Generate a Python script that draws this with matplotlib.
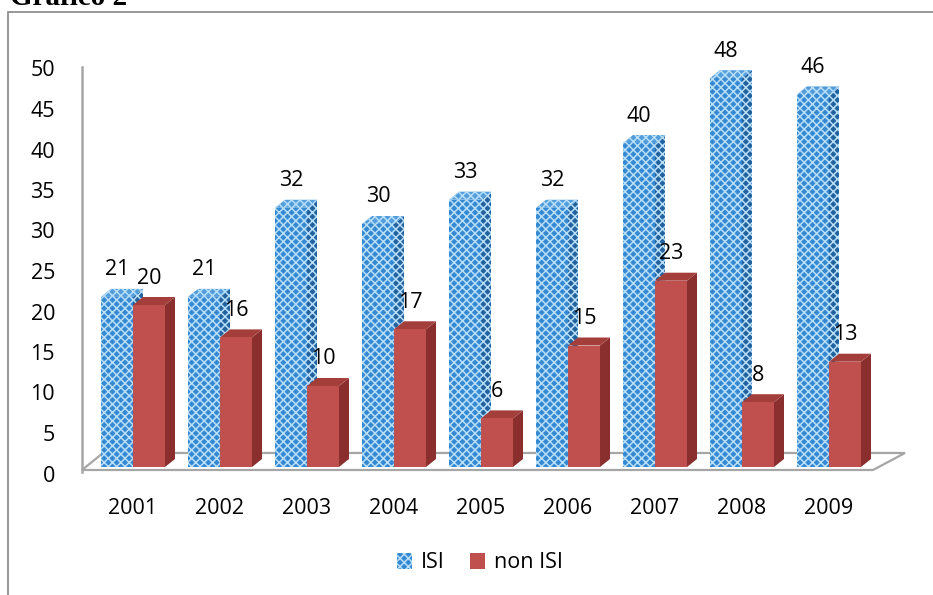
import numpy as np
import matplotlib
matplotlib.use('Agg')
import matplotlib.pyplot as plt
from matplotlib.patches import Polygon, Rectangle, Patch
from matplotlib.transforms import ScaledTranslation

years = ['2001', '2002', '2003', '2004', '2005', '2006', '2007', '2008', '2009']
isi = [21, 21, 32, 30, 33, 32, 40, 48, 46]
non_isi = [20, 16, 10, 17, 6, 15, 23, 8, 13]

plt.rcParams['font.family'] = ['Open Sans', 'DejaVu Sans']
plt.rcParams['hatch.linewidth'] = 1.1
FS = 15.5

W, H, DPI = 933, 595, 100
fig = plt.figure(figsize=(W / DPI, H / DPI), dpi=DPI)

# axes placed so that bar base / top match the reference pixels
px_left, px_right = 82, 905
px_zero, px_fifty = 467, 62
grp0, step = 133, 87
ax = fig.add_axes([px_left / W, (H - px_zero) / H,
                   (px_right - px_left) / W, (px_zero - px_fifty) / H])
x_lo = (px_left - grp0) / step
x_hi = (px_right - grp0) / step
ax.set_xlim(x_lo, x_hi)
ax.set_ylim(0, 50)
ax.axis('off')

bw = 32 / step          # bar width
ddx = 10 / step         # depth offset x
ddy = 8 / 8.1           # depth offset y (value units)

# floor
floor_front = -0.37
floor_back = 1.73
floor = Polygon([(x_lo, floor_front), ((873 - grp0) / step, floor_front),
                 (x_hi, floor_back), ((103 - grp0) / step, floor_back)],
                closed=True, facecolor='white', edgecolor='#a6a6a6',
                linewidth=1.6, clip_on=False, zorder=1)
ax.add_patch(floor)
ax.plot([x_lo, x_lo], [floor_front - 0.2, (px_zero - 67) / 8.1],
        color='#a6a6a6', linewidth=1.8, clip_on=False, zorder=1)

blue = dict(front='#3589d2', side='#21629f', top='#529ddb', hatch='#b8def8')
red = dict(front='#c0504d', side='#8a2f2d', top='#a33e3b', hatch=None)


def bar3d(x0, v, c, z):
    hk = dict(hatch='xxxx', edgecolor=c['hatch'], linewidth=0) if c['hatch'] else dict(linewidth=0)
    side = Polygon([(x0 + bw, 0), (x0 + bw + ddx, ddy), (x0 + bw + ddx, v + ddy), (x0 + bw, v)],
                   facecolor=c['side'], clip_on=False, zorder=z, **hk)
    top = Polygon([(x0, v), (x0 + bw, v), (x0 + bw + ddx, v + ddy), (x0 + ddx, v + ddy)],
                  facecolor=c['top'], clip_on=False, zorder=z, **hk)
    front = Rectangle((x0, 0), bw, v, facecolor=c['front'], clip_on=False, zorder=z, **hk)
    for p in (side, top, front):
        ax.add_patch(p)


lab_off = 19 * 72 / DPI
for i, (a, b) in enumerate(zip(isi, non_isi)):
    bar3d(i - bw, a, blue, 2 + 2 * i)
    bar3d(i, b, red, 3 + 2 * i)
    ax.annotate(str(a), (i - bw / 2, a + ddy), xytext=(0, lab_off), textcoords='offset points',
                ha='center', va='center', fontsize=FS, zorder=30)
    ax.annotate(str(b), (i + bw / 2, b + ddy), xytext=(0, lab_off), textcoords='offset points',
                ha='center', va='center', fontsize=FS, zorder=30)

# category labels
xoff = ax.transData + ScaledTranslation(0, -41 / DPI, fig.dpi_scale_trans)
for i, y in enumerate(years):
    ax.text(i, 0, y, transform=xoff, ha='center', va='center', fontsize=FS)

# value labels (on the back wall, slightly lower)
yoff = ax.get_yaxis_transform() + ScaledTranslation(-27 / DPI, -9 / DPI, fig.dpi_scale_trans)
for t in range(0, 51, 5):
    ax.text(0, t, str(t), transform=yoff, ha='right', va='center', fontsize=FS)

# chart frame and title
fig.patches.append(Rectangle((8 / W, -0.1), 2, 1 - 12 / H + 0.1, transform=fig.transFigure,
                             facecolor='none', edgecolor='#868686', linewidth=1.2))
fig.text(10 / W, 1 - 5 / H, 'Grafico 2', ha='left', va='baseline', fontsize=21,
         fontweight='bold', family='Liberation Serif')

handles = [Patch(facecolor=blue['front'], edgecolor=blue['hatch'], hatch='xxxx', linewidth=0),
           Patch(facecolor=red['front'], linewidth=0)]
fig.legend(handles, ['ISI', 'non ISI'], loc='center', bbox_to_anchor=(480 / W, 1 - 563 / H),
           ncol=2, frameon=False, fontsize=FS, handlelength=0.7, handleheight=0.7,
           handletextpad=0.4, columnspacing=1.2)

plt.savefig('out.png', dpi=DPI)
